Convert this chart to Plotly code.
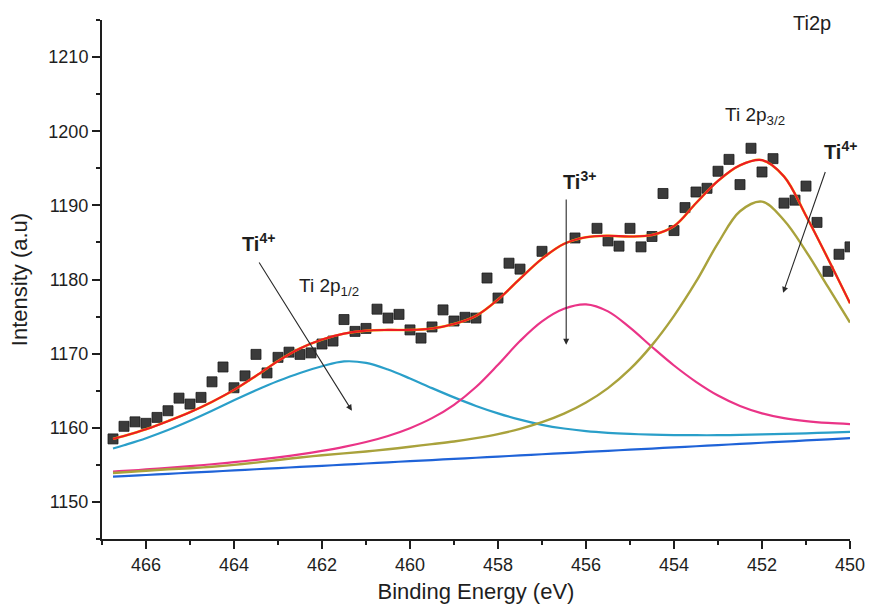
import plotly.graph_objects as go

# Measured Ti 2p spectrum (binding energy in eV, intensity in a.u.)
energy = [466.75, 466.50, 466.25, 466.00, 465.75, 465.50, 465.25, 465.00, 464.75, 464.50,
          464.25, 464.00, 463.75, 463.50, 463.25, 463.00, 462.75, 462.50, 462.25, 462.00,
          461.75, 461.50, 461.25, 461.00, 460.75, 460.50, 460.25, 460.00, 459.75, 459.50,
          459.25, 459.00, 458.75, 458.50, 458.25, 458.00, 457.75, 457.50, 457.00, 456.25,
          455.75, 455.50, 455.25, 455.00, 454.75, 454.50, 454.25, 454.00, 453.75, 453.50,
          453.25, 453.00, 452.75, 452.50, 452.25, 452.00, 451.75, 451.50, 451.25, 451.00,
          450.75, 450.50, 450.25, 450.00]
intensity = [1158.5, 1160.2, 1160.8, 1160.6, 1161.4, 1162.3, 1164.0, 1163.2, 1164.1, 1166.2,
             1168.2, 1165.4, 1167.0, 1169.9, 1167.4, 1169.5, 1170.2, 1169.9, 1170.1, 1171.3,
             1171.7, 1174.6, 1173.0, 1173.4, 1176.0, 1174.8, 1175.3, 1173.2, 1172.1, 1173.6,
             1175.9, 1174.4, 1174.9, 1174.8, 1180.2, 1177.5, 1182.2, 1181.4, 1183.8, 1185.6,
             1186.9, 1185.2, 1184.5, 1186.9, 1184.4, 1185.8, 1191.6, 1186.6, 1189.7, 1191.8,
             1192.3, 1194.6, 1196.2, 1192.8, 1197.7, 1194.5, 1196.3, 1190.3, 1190.7, 1192.6,
             1187.7, 1181.1, 1183.4, 1184.4]

# Fit components on a common energy grid
fit_energy = [466.75, 466.5, 466.0, 465.5, 465.0, 464.5, 464.0, 463.5, 463.0, 462.5,
              462.0, 461.5, 461.0, 460.5, 460.0, 459.5, 459.0, 458.5, 458.0, 457.5,
              457.0, 456.5, 456.0, 455.5, 455.0, 454.5, 454.0, 453.5, 453.0, 452.5,
              452.0, 451.5, 451.0, 450.5, 450.0]
background = [1153.40, 1153.48, 1153.63, 1153.79, 1153.94, 1154.10, 1154.25, 1154.41, 1154.56, 1154.72,
              1154.87, 1155.03, 1155.18, 1155.34, 1155.50, 1155.65, 1155.81, 1155.96, 1156.12, 1156.27,
              1156.43, 1156.58, 1156.74, 1156.89, 1157.05, 1157.20, 1157.36, 1157.51, 1157.67, 1157.82,
              1157.98, 1158.13, 1158.29, 1158.44, 1158.60]
ti4_2p12 = [1157.2, 1157.65, 1158.6, 1159.7, 1160.95, 1162.3, 1163.7, 1165.05, 1166.3, 1167.4,
            1168.3, 1168.95, 1168.75, 1167.85, 1166.65, 1165.35, 1164.1, 1162.95, 1161.95, 1161.1,
            1160.4, 1159.9, 1159.55, 1159.32, 1159.17, 1159.07, 1159.02, 1159.0, 1159.0, 1159.05,
            1159.1, 1159.17, 1159.25, 1159.35, 1159.45]
ti3 = [1154.1, 1154.18, 1154.38, 1154.6, 1154.83, 1155.08, 1155.36, 1155.67, 1156.02, 1156.42,
       1156.88, 1157.42, 1158.08, 1158.9, 1159.95, 1161.3, 1163.1, 1165.5, 1168.5, 1171.7,
       1174.35, 1176.05, 1176.65, 1175.7, 1173.5, 1170.9, 1168.4, 1166.2, 1164.35, 1162.95,
       1161.95, 1161.3, 1160.9, 1160.65, 1160.5]
ti4_2p32 = [1153.9, 1154.0, 1154.2, 1154.4, 1154.55, 1154.75, 1155.0, 1155.3, 1155.65, 1156.0,
            1156.3, 1156.55, 1156.8, 1157.1, 1157.45, 1157.8, 1158.15, 1158.6, 1159.15, 1159.85,
            1160.75, 1161.9, 1163.4, 1165.35, 1167.9, 1171.15, 1175.1, 1179.7, 1184.9, 1189.2,
            1190.5, 1188.0, 1183.8, 1179.0, 1174.2]
envelope = [1158.5, 1158.9, 1159.8, 1160.9, 1162.1, 1163.5, 1165.1, 1167.0, 1169.0, 1170.7,
            1171.9, 1172.7, 1173.1, 1173.2, 1173.2, 1173.4, 1174.0, 1175.1, 1177.3, 1180.1,
            1182.8, 1184.8, 1185.7, 1185.9, 1185.8, 1186.0, 1187.2, 1190.3, 1193.3, 1195.4,
            1196.1, 1193.9, 1188.6, 1182.8, 1176.8]

FONT = "Liberation Sans, Arial, sans-serif"
INK = "#1e1e1e"

fig = go.Figure()

fig.add_trace(go.Scatter(
    x=energy, y=intensity, mode="markers",
    marker=dict(symbol="square", size=10, color="#3b3b3b",
                line=dict(color="#1c1c1c", width=0.8)),
    showlegend=False))

def curve(y, color, width):
    fig.add_trace(go.Scatter(
        x=fit_energy, y=y, mode="lines",
        line=dict(color=color, width=width, shape="spline", smoothing=1.0),
        showlegend=False, hoverinfo="skip"))

curve(background, "#1f63d8", 2.2)
curve(ti4_2p12, "#2a9fc9", 2.2)
curve(ti3, "#ea3487", 2.2)
curve(ti4_2p32, "#a9a23c", 2.4)
curve(envelope, "#f5c400", 2.5)
curve(envelope, "#ec1c24", 2.1)

# Text labels
labels = [
    (450.87, 1214.6, "Ti2p", 20),
    (452.17, 1202.1, "Ti 2p<sub>3/2</sub>", 19),
    (461.84, 1179.0, "Ti 2p<sub>1/2</sub>", 19),
    (450.22, 1197.4, "<b>Ti<sup>4+</sup></b>", 20),
    (456.14, 1193.4, "<b>Ti<sup>3+</sup></b>", 20),
    (463.44, 1185.0, "<b>Ti<sup>4+</sup></b>", 20),
]
for x, y, t, s in labels:
    fig.add_annotation(x=x, y=y, text=t, showarrow=False, xanchor="center", yanchor="middle",
                       font=dict(family=FONT, size=s, color=INK))

# Arrows pointing at the fitted components
arrows = [
    ((450.55, 1194.7), (451.52, 1178.2)),
    ((456.45, 1191.0), (456.45, 1171.2)),
    ((463.45, 1182.5), (461.32, 1162.3)),
]
for (tx, ty), (hx, hy) in arrows:
    fig.add_annotation(x=hx, y=hy, ax=tx, ay=ty, xref="x", yref="y", axref="x", ayref="y",
                       text="", showarrow=True, arrowhead=2, arrowsize=1.1, arrowwidth=1.1,
                       arrowcolor="#2a2a2a")

axis_common = dict(
    showgrid=False, zeroline=False, showline=True, linecolor=INK, linewidth=2,
    ticks="outside", ticklen=8, tickwidth=1.6, tickcolor=INK,
    tickfont=dict(family=FONT, size=18, color=INK),
)

fig.update_layout(
    width=877, height=614,
    margin=dict(l=102, r=17, t=20, b=75),
    paper_bgcolor="white", plot_bgcolor="white",
    xaxis=dict(range=[467, 450], tickmode="array", tickvals=list(range(466, 449, -2)),
               minor=dict(tickmode="linear", tick0=467, dtick=1, ticks="outside",
                          ticklen=4, tickwidth=1.6, tickcolor=INK),
               title=dict(text="Binding Energy (eV)", font=dict(family=FONT, size=22, color=INK),
                          standoff=10),
               **axis_common),
    yaxis=dict(range=[1145, 1215], tickmode="array", tickvals=list(range(1150, 1211, 10)),
               minor=dict(tickmode="linear", tick0=1145, dtick=5, ticks="outside",
                          ticklen=4, tickwidth=1.6, tickcolor=INK),
               title=dict(text="Intensity (a.u)", font=dict(family=FONT, size=22, color=INK),
                          standoff=15),
               **axis_common),
)

fig.write_html("out.html")
